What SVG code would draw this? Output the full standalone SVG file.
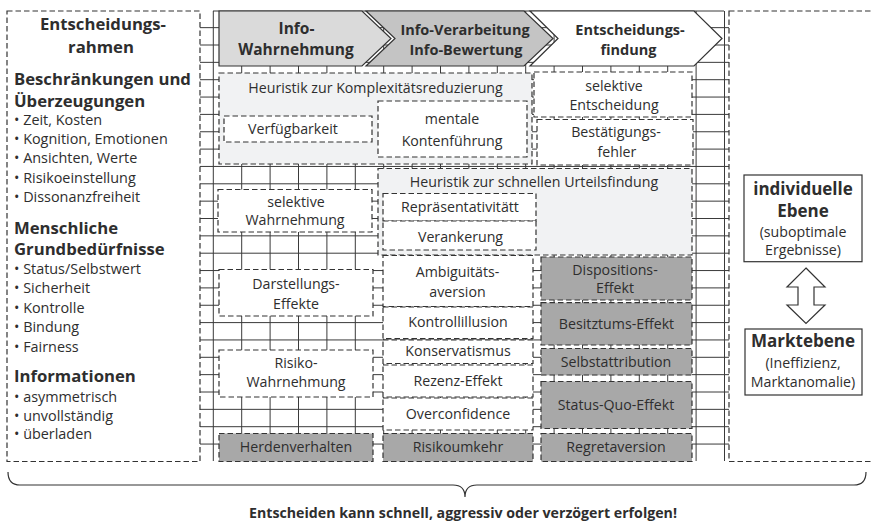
<svg xmlns="http://www.w3.org/2000/svg" width="872" height="524" viewBox="0 0 872 524">
<style>
.grid{stroke:#3a3a3a;stroke-width:1;fill:none}
.d{stroke:#333;stroke-width:1.2;stroke-dasharray:5.5 3}
.s{stroke:#333;stroke-width:1.2}
.w{fill:#fff}
.lg{fill:#f1f2f3}
.dg{fill:#a8a8a8}
text{font-family:"Open Sans","Liberation Sans",sans-serif;fill:#2e2e2e;font-size:14.2px}
.c{text-anchor:middle}
.b{font-weight:bold}
.l{font-size:14.4px}
.h1{font-size:16.7px;font-weight:bold}
.hp{font-size:15.5px;font-weight:bold}
.h2{font-size:14.5px;font-weight:bold}
.hr{font-size:17px;font-weight:bold}
</style>
<rect width="872" height="524" fill="#fff"/>
<g id="grid" class="grid">
<path d="M213,11H724M200,27.65H729M200,45H729M200,62.35H729M200,79.7H729M200,97.05H729M200,114.4H729M200,131.75H729M200,149.1H729M200,166.45H729M200,183.8H729M200,201.15H729M200,218.5H729M200,235.85H729M200,253.2H729M200,270.55H729M200,287.9H729M200,305.25H729M200,322.6H729M200,339.95H729M200,357.3H729M200,374.65H729M200,392H729M200,409.35H729M200,426.7H729M200,444.05H729"/>
<path d="M213.3,11V461M241.7,11V461M270.1,11V461M298.5,11V461M326.9,11V461M355.3,11V461M383.7,11V461M412.1,11V461M440.5,11V461M468.9,11V461M497.3,11V461M525.7,11V461M554.1,11V461M582.5,11V461M610.9,11V461M639.3,11V461M667.7,11V461M696.1,11V461M724.5,11V461"/>
</g>
<g id="frame-left">
<rect x="7" y="11" width="193" height="450.5" class="d w"/>
<text class="c h1" x="103" y="30">Entscheidungs-</text>
<text class="c h1" x="101" y="53">rahmen</text>
<text class="h1" x="14" y="85">Beschränkungen und</text>
<text class="h1" x="14" y="106.5">Überzeugungen</text>
<text class="l" x="14" y="125">• Zeit, Kosten</text>
<text class="l" x="14" y="144">• Kognition, Emotionen</text>
<text class="l" x="14" y="163.3">• Ansichten, Werte</text>
<text class="l" x="14" y="183">• Risikoeinstellung</text>
<text class="l" x="14" y="201.7">• Dissonanzfreiheit</text>
<text class="h1" x="14" y="233.5">Menschliche</text>
<text class="h1" x="14" y="255.3">Grundbedürfnisse</text>
<text class="l" x="14" y="273.5">• Status/Selbstwert</text>
<text class="l" x="14" y="293">• Sicherheit</text>
<text class="l" x="14" y="312.5">• Kontrolle</text>
<text class="l" x="14" y="332">• Bindung</text>
<text class="l" x="14" y="351.5">• Fairness</text>
<text class="h1" x="14" y="381.5">Informationen</text>
<text class="l" x="14" y="401.5">• asymmetrisch</text>
<text class="l" x="14" y="420.5">• unvollständig</text>
<text class="l" x="14" y="439.3">• überladen</text>
</g>
<g id="frame-right">
<rect x="729" y="11" width="160" height="450.5" class="d w"/>
</g>
<g id="phase1">
<path d="M219,11H362L391,38.5L362,66H219Z" fill="#dadada" class="s"/>
<text class="c hp" x="296.5" y="33.5">Info-</text>
<text class="c hp" x="296" y="55">Wahrnehmung</text>
</g>
<g id="phase2">
<path d="M366,11H524L553,38.5L524,66H366L395,38.5Z" fill="#c4c4c4" class="s"/>
<text class="c h2" x="465" y="35">Info-Verarbeitung</text>
<text class="c h2" x="466" y="55">Info-Bewertung</text>
</g>
<g id="phase3">
<path d="M530,11H694L722,38.5L694,66H530L558,38.5Z" fill="#fff" class="s"/>
<text class="c h2" x="630" y="35">Entscheidungs-</text>
<text class="c h2" x="628.5" y="55">findung</text>
</g>
<g id="heuristik-komplexitaet">
<rect x="219" y="73" width="313" height="91" class="d lg"/>
<text class="c" x="375.5" y="93">Heuristik zur Komplexitätsreduzierung</text>
</g>
<g id="verfuegbarkeit">
<rect x="224" y="116" width="148" height="26" class="d w"/>
<text class="c" x="293" y="133.5">Verfügbarkeit</text>
</g>
<g id="mentale-kontenfuehrung">
<rect x="378" y="101" width="149" height="56" class="d w"/>
<text class="c" x="452" y="124">mentale</text>
<text class="c" x="452" y="146">Kontenführung</text>
</g>
<g id="selektive-entscheidung">
<rect x="534" y="72" width="158" height="45" class="d w"/>
<text class="c" x="614" y="91">selektive</text>
<text class="c" x="614" y="110">Entscheidung</text>
</g>
<g id="bestaetigungsfehler">
<rect x="537" y="119.5" width="156" height="45.5" class="d w"/>
<text class="c" x="616" y="137">Bestätigungs-</text>
<text class="c" x="617" y="157">fehler</text>
</g>
<g id="heuristik-urteil">
<rect x="378" y="168.5" width="314" height="86.5" class="d lg"/>
<text class="c" x="534" y="187">Heuristik zur schnellen Urteilsfindung</text>
</g>
<g id="repraesentativitaet">
<rect x="383" y="193.5" width="153" height="27.5" class="d w"/>
<text class="c" x="460" y="212">Repräsentativitätt</text>
</g>
<g id="verankerung">
<rect x="383" y="221" width="153" height="29" class="d w"/>
<text class="c" x="460.5" y="242">Verankerung</text>
</g>
<g id="selektive-wahrnehmung">
<rect x="218" y="189.5" width="154" height="42.5" class="d w"/>
<text class="c" x="296" y="207">selektive</text>
<text class="c" x="295" y="225">Wahrnehmung</text>
</g>
<g id="darstellungseffekte">
<rect x="219" y="269.5" width="154" height="46.5" class="d w"/>
<text class="c" x="296" y="288.5">Darstellungs-</text>
<text class="c" x="296" y="308.5">Effekte</text>
</g>
<g id="ambiguitaetsaversion">
<rect x="383" y="255.5" width="150" height="51" class="d w"/>
<text class="c" x="457.5" y="277">Ambiguitäts-</text>
<text class="c" x="457.5" y="297">aversion</text>
</g>
<g id="kontrollillusion">
<rect x="383" y="307" width="150" height="31.5" class="d w"/>
<text class="c" x="458" y="327">Kontrollillusion</text>
</g>
<g id="konservatismus">
<rect x="383" y="340" width="150" height="23.5" class="d w"/>
<text class="c" x="458" y="356">Konservatismus</text>
</g>
<g id="rezenz-effekt">
<rect x="383" y="365" width="150" height="32" class="d w"/>
<text class="c" x="458" y="386">Rezenz-Effekt</text>
</g>
<g id="overconfidence">
<rect x="383" y="398" width="150" height="32" class="d w"/>
<text class="c" x="458" y="419">Overconfidence</text>
</g>
<g id="risikoumkehr">
<rect x="383" y="433.5" width="150" height="28" class="d dg"/>
<text class="c" x="458" y="451.5">Risikoumkehr</text>
</g>
<g id="risikowahrnehmung">
<rect x="219" y="350" width="154" height="47" class="d w"/>
<text class="c" x="296" y="368">Risiko-</text>
<text class="c" x="296" y="387">Wahrnehmung</text>
</g>
<g id="herdenverhalten">
<rect x="219" y="433.5" width="154" height="28" class="d dg"/>
<text class="c" x="296" y="451.5">Herdenverhalten</text>
</g>
<g id="dispositionseffekt">
<rect x="541" y="257" width="151" height="43" class="d dg"/>
<text class="c" x="615" y="275">Dispositions-</text>
<text class="c" x="615" y="293">Effekt</text>
</g>
<g id="besitztumseffekt">
<rect x="541" y="302.7" width="151" height="42.3" class="d dg"/>
<text class="c" x="616.5" y="328.5">Besitztums-Effekt</text>
</g>
<g id="selbstattribution">
<rect x="541" y="348.5" width="151" height="26.5" class="d dg"/>
<text class="c" x="616" y="367">Selbstattribution</text>
</g>
<g id="status-quo-effekt">
<rect x="541" y="381.5" width="151" height="47" class="d dg"/>
<text class="c" x="616" y="409.5">Status-Quo-Effekt</text>
</g>
<g id="regretaversion">
<rect x="541" y="433.5" width="151" height="28" class="d dg"/>
<text class="c" x="616" y="451.5">Regretaversion</text>
</g>
<g id="individuelle-ebene">
<rect x="744" y="175" width="118" height="86.7" class="s w"/>
<text class="c hr" x="803" y="195">individuelle</text>
<text class="c hr" x="803" y="216.5">Ebene</text>
<text class="c" x="803" y="236.5">(suboptimale</text>
<text class="c" x="803" y="254.5">Ergebnisse)</text>
</g>
<g id="marktebene">
<rect x="745" y="329" width="117" height="66" class="s w"/>
<text class="c hr" x="803" y="346.5">Marktebene</text>
<text class="c" x="803" y="368">(Ineffizienz,</text>
<text class="c" x="803" y="386.5">Marktanomalie)</text>
</g>
<g id="connectors">
<path d="M806,268L825,287H814V305H825L806,323.5L787,305H798V287H787Z" class="s w"/>
<path d="M8,472Q8,485 20,485H453Q465,485 465,497Q465,485 477,485H854Q866,485 866,472" class="s" fill="none"/>
</g>
<text class="c b" x="463" y="518" font-size="13.2px">Entscheiden kann schnell, aggressiv oder verzögert erfolgen!</text>
</svg>
